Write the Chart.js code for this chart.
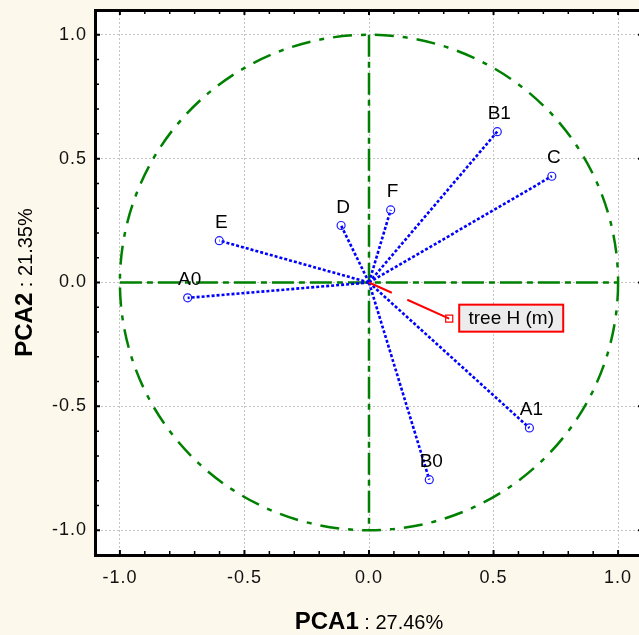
<!DOCTYPE html>
<html>
<head>
<meta charset="utf-8">
<script src="https://cdn.jsdelivr.net/npm/chart.js@4.4.1/dist/chart.umd.min.js"></script>
<style>
  html, body { margin: 0; padding: 0; overflow: hidden; background: #FDF8EC; }
  #wrap { width: 650px; height: 635px; }
</style>
</head>
<body>
<div id="wrap"><canvas id="c" width="650" height="635"></canvas></div>
<script>
// ---- data ----
const variables = ['B1', 'C', 'F', 'D', 'E', 'A0', 'A1', 'B0'];
const pca1 = [0.515, 0.734, 0.087, -0.112, -0.601, -0.728, 0.644, 0.242];
const pca2 = [0.609, 0.429, 0.293, 0.230, 0.169, -0.062, -0.587, -0.796];
const suppName = 'tree H (m)';
const suppX = [0.322];
const suppY = [-0.146];
const axisMin = -1.1, axisMax = 1.1;
const tickStep = 0.1;
const xTitleBold = 'PCA1', xTitleRest = ' : 27.46%';
const yTitleBold = 'PCA2', yTitleRest = ' : 21.35%';

const FONT = '"Liberation Sans", Arial, sans-serif';
const isMajor = v => Math.abs(v * 2 - Math.round(v * 2)) < 1e-6;

const datasets = [];
variables.forEach((name, i) => {
  datasets.push({
    label: name,
    data: [{x: 0, y: 0}, {x: pca1[i], y: pca2[i]}],
    showLine: true,
    borderColor: '#0000ff',
    borderWidth: 2.6,
    borderDash: [3, 2],
    pointRadius: c => c.dataIndex === 1 ? 4 : 0,
    pointStyle: 'circle',
    pointBorderColor: '#1a1aff',
    pointBorderWidth: 1.2,
    pointBackgroundColor: 'rgba(0,0,0,0)',
    order: 2
  });
});
datasets.push({
  label: suppName,
  data: [{x: 0, y: 0}, {x: suppX[0], y: suppY[0]}],
  showLine: true,
  borderColor: '#ff0000',
  borderWidth: 2,
  borderDash: [25, 17, 300, 10],
  pointRadius: c => c.dataIndex === 1 ? 5 : 0,
  pointStyle: 'rect',
  pointBorderColor: '#ff0000',
  pointBorderWidth: 1.2,
  pointBackgroundColor: 'rgba(0,0,0,0)',
  order: 1
});

const bgPlugin = {
  id: 'bg',
  beforeDraw(chart) {
    const {ctx, chartArea: a} = chart;
    ctx.fillStyle = '#FDF8EC';
    ctx.fillRect(0, 0, chart.width, chart.height);
    ctx.fillStyle = '#ffffff';
    ctx.fillRect(a.left, a.top, a.right - a.left, a.bottom - a.top);
    // slightly wider spacing for the axis tick labels
    ctx.letterSpacing = '1px';
  }
};

const circlePlugin = {
  id: 'circle',
  beforeDatasetsDraw(chart) {
    const {ctx} = chart;
    const xs = chart.scales.x, ys = chart.scales.y;
    const cx = xs.getPixelForValue(0), cy = ys.getPixelForValue(0);
    const rx = xs.getPixelForValue(1) - cx, ry = cy - ys.getPixelForValue(1);
    ctx.save();
    ctx.strokeStyle = '#008000';
    ctx.lineWidth = 2.5;
    ctx.setLineDash([19, 9, 5, 9]);
    ctx.beginPath();
    ctx.ellipse(cx, cy, rx, ry, 0, 0, Math.PI * 2);
    ctx.stroke();
    ctx.setLineDash([22, 5, 6, 5]);
    ctx.beginPath();
    ctx.moveTo(xs.getPixelForValue(-1), cy);
    ctx.lineTo(xs.getPixelForValue(1), cy);
    ctx.stroke();
    ctx.beginPath();
    ctx.moveTo(cx, ys.getPixelForValue(1));
    ctx.lineTo(cx, ys.getPixelForValue(-1));
    ctx.stroke();
    ctx.restore();
  }
};

const labelPlugin = {
  id: 'labels',
  afterDatasetsDraw(chart) {
    const {ctx, chartArea: a} = chart;
    const xs = chart.scales.x, ys = chart.scales.y;
    ctx.save();
    ctx.letterSpacing = '0px';
    ctx.fillStyle = '#000';
    ctx.font = '19px ' + FONT;
    ctx.textAlign = 'center';
    ctx.textBaseline = 'middle';
    variables.forEach((name, i) => {
      const px = xs.getPixelForValue(pca1[i]);
      const py = ys.getPixelForValue(pca2[i]);
      ctx.fillText(name, px + 2, py - 18);
    });
    // supplementary label box
    const sx = xs.getPixelForValue(suppX[0]), sy = ys.getPixelForValue(suppY[0]);
    const bx = sx + 10, by = sy - 14, bw = 104, bh = 27;
    ctx.fillStyle = '#ECECEC';
    ctx.fillRect(bx, by, bw, bh);
    ctx.strokeStyle = '#ff0000';
    ctx.lineWidth = 2;
    ctx.setLineDash([]);
    ctx.strokeRect(bx, by, bw, bh);
    ctx.fillStyle = '#000';
    ctx.font = '19px ' + FONT;
    ctx.fillText(suppName, bx + bw / 2, by + bh / 2 + 1);

    // inward tick marks on all four sides
    ctx.strokeStyle = '#000';
    const n = Math.round((axisMax - axisMin) / tickStep);
    for (let k = 1; k < n; k++) {
      const v = axisMin + k * tickStep;
      const major = isMajor(v);
      const len = major ? 5 : 4;
      ctx.lineWidth = major ? 2 : 1.5;
      const px = xs.getPixelForValue(v);
      const py = ys.getPixelForValue(v);
      ctx.beginPath();
      ctx.moveTo(px, a.bottom); ctx.lineTo(px, a.bottom - len);
      ctx.moveTo(px, a.top); ctx.lineTo(px, a.top + len);
      ctx.moveTo(a.left, py); ctx.lineTo(a.left + len, py);
      ctx.moveTo(a.right, py); ctx.lineTo(a.right - len, py);
      ctx.stroke();
    }

    // axis titles (bold name + regular percentage)
    const BOLD = 'bold 24px ' + FONT, REG = '20px ' + FONT;
    ctx.textBaseline = 'alphabetic';
    ctx.textAlign = 'left';
    ctx.font = BOLD;
    const wb = ctx.measureText(xTitleBold).width;
    ctx.font = REG;
    const wr = ctx.measureText(xTitleRest).width;
    const x0 = xs.getPixelForValue(0) - (wb + wr) / 2;
    ctx.font = BOLD;
    ctx.fillText(xTitleBold, x0, 629);
    ctx.font = REG;
    ctx.fillText(xTitleRest, x0 + wb, 629);

    ctx.translate(32, ys.getPixelForValue(0));
    ctx.rotate(-Math.PI / 2);
    ctx.font = BOLD;
    const wb2 = ctx.measureText(yTitleBold).width;
    ctx.font = REG;
    const wr2 = ctx.measureText(yTitleRest).width;
    const y0 = -(wb2 + wr2) / 2;
    ctx.font = BOLD;
    ctx.fillText(yTitleBold, y0, 0);
    ctx.font = REG;
    ctx.fillText(yTitleRest, y0 + wb2, 0);
    ctx.restore();
  }
};

const gridOpts = {
  color: c => (c.tick && isMajor(c.tick.value)) ? '#c4c4c4' : 'rgba(0,0,0,0)',
  lineWidth: 1,
  drawTicks: false
};

new Chart(document.getElementById('c'), {
  type: 'scatter',
  data: { datasets },
  plugins: [bgPlugin, circlePlugin, labelPlugin],
  options: {
    responsive: false,
    animation: false,
    layout: { padding: 0 },
    plugins: { legend: { display: false }, tooltip: { enabled: false } },
    scales: {
      x: {
        type: 'linear', position: 'bottom',
        min: axisMin, max: axisMax,
        afterFit: s => { s.height = 80; s.paddingLeft = 0; s.paddingRight = 0; },
        grid: gridOpts,
        border: { display: true, color: '#000', width: 3, dash: [2, 2] },
        ticks: {
          stepSize: tickStep, autoSkip: false, maxRotation: 0, padding: 12,
          color: '#111', font: { size: 18, family: FONT },
          callback: v => isMajor(v) ? Number(v).toFixed(1) : ''
        }
      },
      y: {
        type: 'linear', position: 'left',
        min: axisMin, max: axisMax,
        afterFit: s => { s.width = 95; s.paddingTop = 0; s.paddingBottom = 0; },
        grid: gridOpts,
        border: { display: true, color: '#000', width: 3, dash: [2, 2] },
        ticks: {
          stepSize: tickStep, autoSkip: false, padding: 8,
          color: '#111', font: { size: 18, family: FONT },
          callback: v => isMajor(v) ? Number(v).toFixed(1) : ''
        }
      },
      x2: {
        type: 'linear', position: 'top', min: axisMin, max: axisMax,
        afterFit: s => { s.height = 10; s.paddingLeft = 0; s.paddingRight = 0; },
        grid: { display: false, drawTicks: false },
        border: { display: true, color: '#000', width: 3 },
        ticks: { display: false }
      },
      y2: {
        type: 'linear', position: 'right', min: axisMin, max: axisMax,
        afterFit: s => { s.width = 7; s.paddingTop = 0; s.paddingBottom = 0; },
        grid: { display: false, drawTicks: false },
        border: { display: true, color: '#000', width: 3 },
        ticks: { display: false }
      }
    }
  }
});
</script>
</body>
</html>
